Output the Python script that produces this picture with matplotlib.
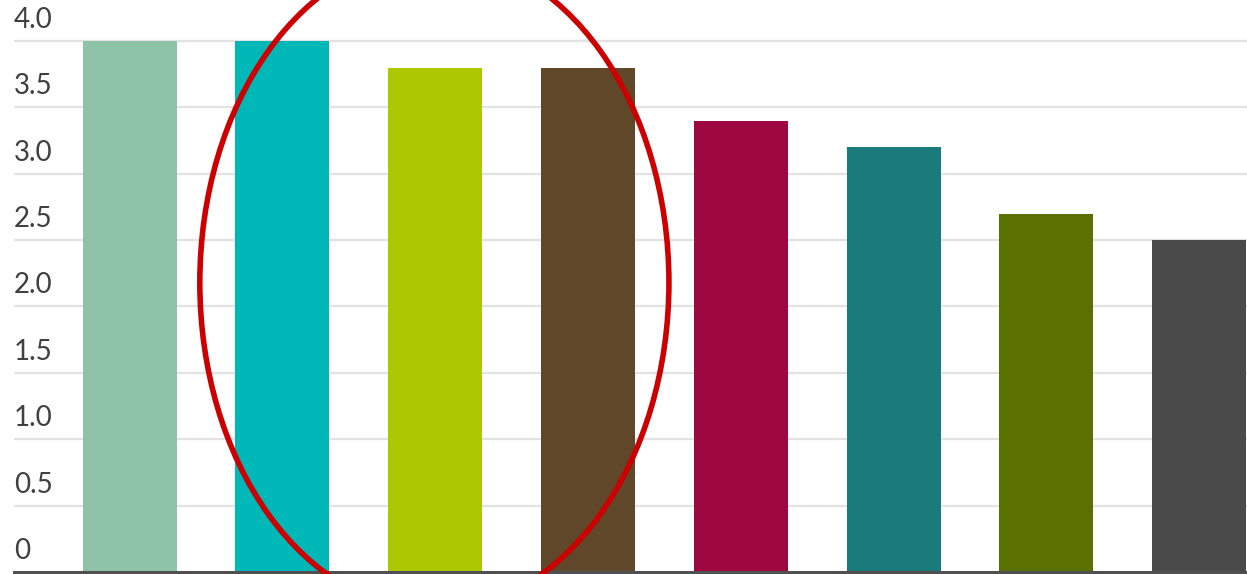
import numpy as np
import matplotlib.pyplot as plt
from matplotlib.patches import Ellipse

plt.rcParams['font.family'] = ['Lato', 'DejaVu Sans']

# 数据
values = [4.0, 4.0, 3.8, 3.8, 3.4, 3.2, 2.7, 2.5]
colors = ['#8FC3A8', '#00B7B8', '#AEC800', '#60472A',
          '#9E0840', '#1B7A7A', '#5A7000', '#4A4A4A']
yticks = [0, 0.5, 1.0, 1.5, 2.0, 2.5, 3.0, 3.5, 4.0]
ytick_labels = ['0', '0.5', '1.0', '1.5', '2.0', '2.5', '3.0', '3.5', '4.0']

fig = plt.figure(figsize=(12.47, 5.74), dpi=100)
ax = fig.add_axes([14 / 1247, 2 / 574, 1 - 14 / 1247, 572 / 574])

x = np.arange(len(values))
ax.bar(x, values, width=0.615, color=colors, zorder=2)

ax.set_xlim(-0.756, 7.313)
ax.set_ylim(0, 572 / 132.75)

# 网格线
for v in yticks[1:]:
    ax.axhline(v, color='#E2E2E2', lw=1.6, zorder=1)
for v, lab in zip(yticks, ytick_labels):
    ax.annotate(lab, xy=(0, v), xycoords=ax.get_yaxis_transform(),
                xytext=(0, 8), textcoords='offset pixels',
                ha='left', va='bottom', fontsize=20, color='#404040')

for s in ['top', 'right', 'left']:
    ax.spines[s].set_visible(False)
ax.spines['bottom'].set_color('#505050')
ax.spines['bottom'].set_linewidth(2.2)
ax.spines['bottom'].set_zorder(3)
ax.set_xticks([])
ax.set_yticks([])

# 红色椭圆标注
ell = Ellipse((1.995, 2.18), width=3.07, height=4.94, fill=False,
              edgecolor='#CC0000', lw=4, zorder=4, clip_on=False)
ax.add_patch(ell)

fig.savefig('out.png', dpi=100)
